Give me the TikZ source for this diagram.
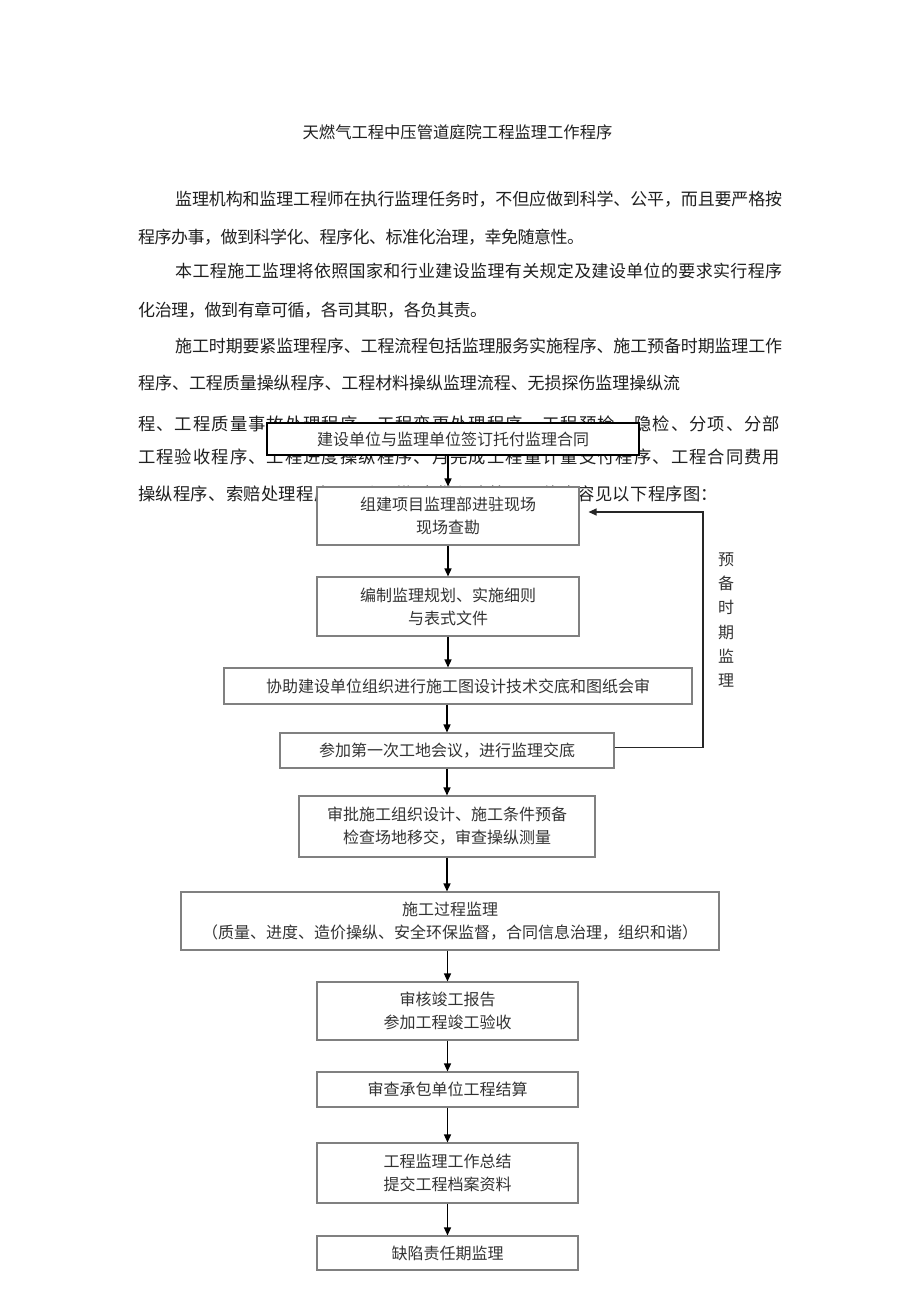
\documentclass[tikz,border=0pt]{standalone}
\usepackage{fontspec}
\newfontfamily\cjk{Noto Sans CJK SC}
\usetikzlibrary{arrows.meta}
\def\spreadtxt#1{\spreadfirst#1\relax}
\def\spreadfirst#1{#1\spreadrest}
\def\spreadrest#1{\ifx#1\relax\else\hskip 0pt plus 1fil minus 1fil#1\expandafter\spreadrest\fi}
\newcommand\jline[2]{\makebox[#1][s]{\spreadtxt{#2}}}
\tikzset{
  body/.style={anchor=west, inner sep=0pt, font=\cjk\fontsize{17}{17}\selectfont, text=black!88},
  bodyb/.style={body, font=\cjk\fontsize{17.3}{17.3}\selectfont},
  stepbox/.style={draw=black!50, line width=1.1pt, fill=white, inner sep=0pt, align=center,
    font=\cjk\fontsize{16}{23}\selectfont, text=black!80},
  firstbox/.style={stepbox, draw=black, line width=1.5pt},
  arr/.style={-{Triangle[length=8pt,width=7pt]}, line width=1.4pt, black},
  loopline/.style={-{Triangle[length=8pt,width=7pt]}, line width=1.2pt, black!85},
}
\begin{document}
\begin{tikzpicture}[x=1pt,y=-1pt]
\fill[white] (0,0) rectangle (920,1301);
\useasboundingbox (0,0) rectangle (920,1301);

\node[inner sep=0pt, font=\cjk\fontsize{16.3}{16.3}\selectfont, text=black!88] (title) at (457.5,132) {天燃气工程中压管道庭院工程监理工作程序};

\node[body] (p1a) at (175,199) {\jline{607pt}{监理机构和监理工程师在执行监理任务时，不但应做到科学、公平，而且要严格按}};
\node[body] (p1b) at (138,237) {\jline{446pt}{程序办事，做到科学化、程序化、标准化治理，幸免随意性。}};
\node[body] (p2a) at (175,271) {\jline{607pt}{本工程施工监理将依照国家和行业建设监理有关规定及建设单位的要求实行程序}};
\node[body] (p2b) at (138,310) {\jline{349pt}{化治理，做到有章可循，各司其职，各负其责。}};
\node[body] (p3a) at (175,346) {\jline{607pt}{施工时期要紧监理程序、工程流程包括监理服务实施程序、施工预备时期监理工作}};
\node[body] (p3b) at (138,383) {\jline{542pt}{程序、工程质量操纵程序、工程材料操纵监理流程、无损探伤监理操纵流}};
\node[bodyb] (p3c) at (138,424) {\jline{642pt}{程、工程质量事故处理程序、工程变更处理程序、工程预检、隐检、分项、分部}};
\node[bodyb] (p3d) at (138,457) {\jline{642pt}{工程验收程序、工程进度操纵程序、月完成工程量计量支付程序、工程合同费用}};
\node[bodyb] (p3e) at (138,494) {\jline{580pt}{操纵程序、索赔处理程序、工程延期审批程序等，具体内容见以下程序图：}};

\node[firstbox, minimum width=372pt, minimum height=32pt] (b1) at (453,439) {建设单位与监理单位签订托付监理合同};
\node[stepbox, minimum width=262pt, minimum height=58pt] (b2) at (448,516) {组建项目监理部进驻现场\\现场查勘};
\node[stepbox, minimum width=262pt, minimum height=59pt] (b3) at (448,606.5) {编制监理规划、实施细则\\与表式文件};
\node[stepbox, minimum width=468pt, minimum height=36pt] (b4) at (458,686) {协助建设单位组织进行施工图设计技术交底和图纸会审};
\node[stepbox, minimum width=334pt, minimum height=35pt] (b5) at (447,750.5) {参加第一次工地会议，进行监理交底};
\node[stepbox, minimum width=296pt, minimum height=61pt] (b6) at (447,826.5) {审批施工组织设计、施工条件预备\\检查场地移交，审查操纵测量};
\node[stepbox, minimum width=538pt, minimum height=58pt] (b7) at (450,921) {施工过程监理\\（质量、进度、造价操纵、安全环保监督，合同信息治理，组织和谐）};
\node[stepbox, minimum width=261pt, minimum height=58pt] (b8) at (447.5,1011) {审核竣工报告\\参加工程竣工验收};
\node[stepbox, minimum width=261pt, minimum height=35pt] (b9) at (447.5,1089.5) {审查承包单位工程结算};
\node[stepbox, minimum width=261pt, minimum height=60pt] (b10) at (447.5,1173) {工程监理工作总结\\提交工程档案资料};
\node[stepbox, minimum width=261pt, minimum height=34pt] (b11) at (447.5,1253) {缺陷责任期监理};

\draw[arr] (b2.north |- b1.south) -- (b2.north);
\draw[arr] (b2.south) -- (b3.north);
\draw[arr] (b3.south) -- (b3.south |- b4.north);
\draw[arr] (b5.north |- b4.south) -- (b5.north);
\draw[arr] (b5.south) -- (b6.north);
\draw[arr] (b6.south) -- (b6.south |- b7.north);
\draw[arr] (b8.north |- b7.south) -- (b8.north);
\draw[arr] (b8.south) -- (b9.north);
\draw[arr] (b9.south) -- (b10.north);
\draw[arr] (b10.south) -- (b11.north);

\coordinate (lp) at (703,512);
\coordinate (tipend) at ([xshift=9pt]b2.east);
\draw[loopline] ([yshift=3pt]b5.east) -| (lp) -- (tipend |- lp);

\node[inner sep=0pt, align=center, font=\cjk\fontsize{16}{24.3}\selectfont, text=black!80] (lbl) at (726,620) {预\\备\\时\\期\\监\\理};
\end{tikzpicture}
\end{document}
